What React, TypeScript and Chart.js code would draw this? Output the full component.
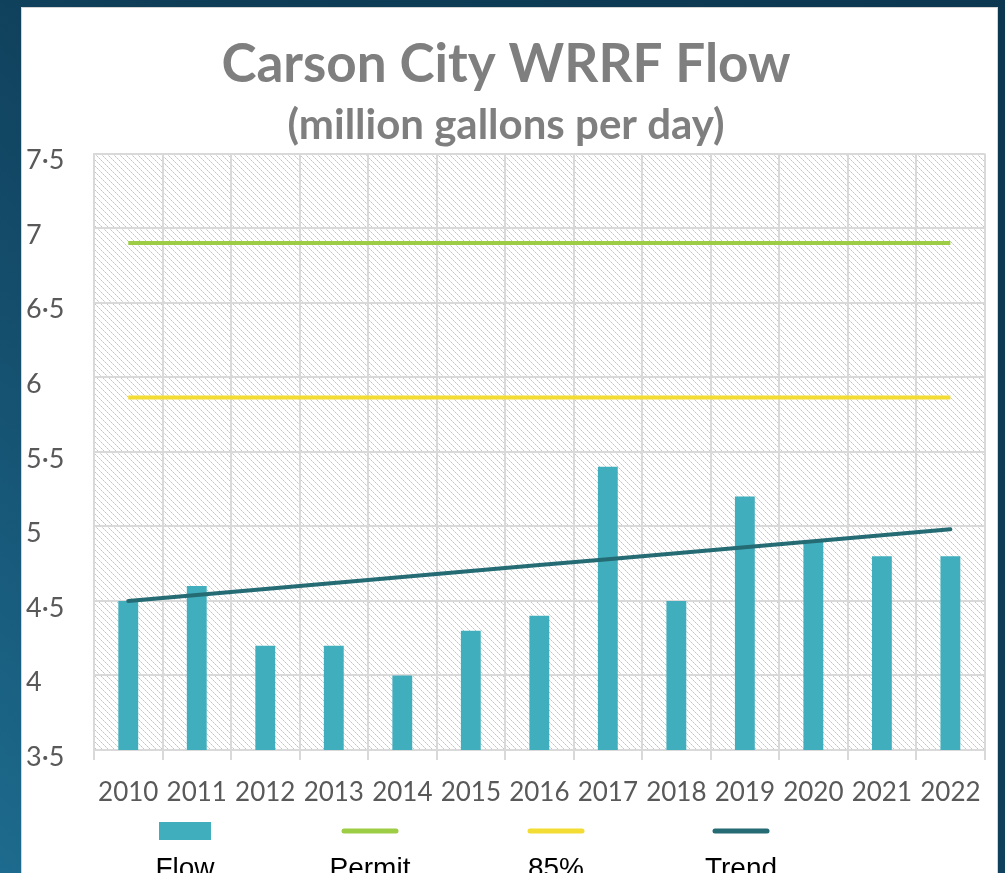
import React, { useEffect, useRef } from "react";
import { Chart, registerables } from "chart.js";

Chart.register(...registerables);

const years = ["2010", "2011", "2012", "2013", "2014", "2015", "2016", "2017", "2018", "2019", "2020", "2021", "2022"];
const flow = [4.5, 4.6, 4.2, 4.2, 4.0, 4.3, 4.4, 5.4, 4.5, 5.2, 4.9, 4.8, 4.8];
const permit = [6.9, 6.9, 6.9, 6.9, 6.9, 6.9, 6.9, 6.9, 6.9, 6.9, 6.9, 6.9, 6.9];
const pct85 = [5.865, 5.865, 5.865, 5.865, 5.865, 5.865, 5.865, 5.865, 5.865, 5.865, 5.865, 5.865, 5.865];
const trend = [4.5, 4.54, 4.58, 4.62, 4.66, 4.7, 4.74, 4.78, 4.82, 4.86, 4.9, 4.94, 4.98];
const seriesNames = ["Flow", "Permit", "85%", "Trend"];
const yMin = 3.5;
const yMax = 7.5;
const yStep = 0.5;
const titleText = "Carson City WRRF Flow";
const subtitleText = "(million gallons per day)";

const COLORS = {
  flow: "#41aebd",
  permit: "#9dcd45",
  pct85: "#f3dc33",
  trend: "#246b74",
  grid: "#d9d9d9",
  tick: "#595959",
  title: "#7f7f7f",
};

const hatchPlugin = {
  id: "hatchBg",
  beforeDraw(chart: any) {
    const { ctx, chartArea } = chart;
    const { left, top, right, bottom } = chartArea;
    const tile = document.createElement("canvas");
    tile.width = 6;
    tile.height = 6;
    const t = tile.getContext("2d")!;
    t.fillStyle = "#ffffff";
    t.fillRect(0, 0, 6, 6);
    for (let i = 0; i < 6; i++) {
      t.fillStyle = i % 2 === 0 ? "#c4c4c4" : "#dcdcdc";
      t.fillRect(i, i, 1, 1);
    }
    const pattern = ctx.createPattern(tile, "repeat");
    ctx.save();
    ctx.fillStyle = pattern;
    ctx.fillRect(left, top, right - left, bottom - top);
    ctx.restore();
  },
};

const legendPlugin = {
  id: "bottomLegend",
  afterDraw(chart: any) {
    const { ctx } = chart;
    const centers = [164, 349, 535, 720];
    const markY = 823;
    const textY = 869;
    ctx.save();
    chart.data.datasets.forEach((ds: any, i: number) => {
      const cx = centers[i];
      if (ds.type === "bar") {
        ctx.fillStyle = ds.backgroundColor;
        ctx.fillRect(cx - 26, markY - 9, 52, 18);
      } else {
        ctx.strokeStyle = ds.borderColor;
        ctx.lineWidth = 5;
        ctx.lineCap = "round";
        ctx.beginPath();
        ctx.moveTo(cx - 26, markY);
        ctx.lineTo(cx + 26, markY);
        ctx.stroke();
      }
      ctx.fillStyle = "#000000";
      ctx.font = "28px 'Liberation Sans', Arial, sans-serif";
      ctx.textAlign = "center";
      ctx.textBaseline = "alphabetic";
      ctx.fillText(ds.label, cx, textY);
    });
    ctx.restore();
  },
};

export default function App() {
  const canvasRef = useRef<HTMLCanvasElement | null>(null);

  useEffect(() => {
    const canvas = canvasRef.current;
    if (!canvas) return;
    const chart = new Chart(canvas, {
      type: "bar",
      data: {
        labels: years,
        datasets: [
          {
            type: "bar",
            label: seriesNames[0],
            data: flow,
            backgroundColor: COLORS.flow,
            borderWidth: 0,
            barPercentage: 0.29,
            categoryPercentage: 1,
            order: 2,
          },
          {
            type: "line",
            label: seriesNames[1],
            data: permit,
            borderColor: COLORS.permit,
            borderWidth: 4,
            pointRadius: 0,
            fill: false,
            order: 1,
          },
          {
            type: "line",
            label: seriesNames[2],
            data: pct85,
            borderColor: COLORS.pct85,
            borderWidth: 4,
            pointRadius: 0,
            fill: false,
            order: 1,
          },
          {
            type: "line",
            label: seriesNames[3],
            data: trend,
            borderColor: COLORS.trend,
            borderWidth: 4,
            borderCapStyle: "round",
            pointRadius: 0,
            fill: false,
            order: 0,
          },
        ] as any,
      },
      options: {
        responsive: false,
        animation: false,
        devicePixelRatio: 1,
        layout: { padding: { left: 5, right: 12, top: 0, bottom: 0 } },
        plugins: {
          legend: { display: false },
          tooltip: { enabled: false },
          title: {
            display: true,
            text: titleText,
            color: COLORS.title,
            font: { family: "Lato", size: 53, weight: "bold", lineHeight: 1.2 },
            padding: { top: 25, bottom: 0 },
          },
          subtitle: {
            display: true,
            text: subtitleText,
            color: COLORS.title,
            font: { family: "Lato", size: 42, weight: "bold", lineHeight: 1.2 },
            padding: { top: 4, bottom: 2.6 },
          },
        },
        scales: {
          x: {
            offset: true,
            grid: {
              offset: true,
              color: COLORS.grid,
              lineWidth: 2,
              drawTicks: true,
              tickLength: 10,
              tickColor: COLORS.grid,
            },
            border: { display: true, color: COLORS.grid, width: 2 },
            ticks: {
              color: COLORS.tick,
              font: { family: "Lato", size: 26 },
              autoSkip: false,
              maxRotation: 0,
              minRotation: 0,
              padding: 17,
            },
            afterFit(scale: any) {
              scale.height = 138;
            },
          },
          y: {
            min: yMin,
            max: yMax,
            grid: {
              color: COLORS.grid,
              lineWidth: 2,
              drawTicks: false,
            },
            border: { display: true, color: COLORS.grid, width: 2 },
            ticks: {
              stepSize: yStep,
              color: COLORS.tick,
              font: { family: "Lato", size: 27 },
              crossAlign: "far",
              labelOffset: 7,
              padding: 0,
              callback: (v: any) => {
                const n = Number(v);
                return Number.isInteger(n) ? String(n) : String(n).replace(".", "·");
              },
            },
            afterFit(scale: any) {
              scale.width = 68;
            },
          },
        },
      } as any,
      plugins: [hatchPlugin, legendPlugin],
    });
    return () => chart.destroy();
  }, []);

  return (
    <div
      style={{
        position: "fixed",
        inset: 0,
        overflow: "hidden",
        background: "linear-gradient(to top right, #1d6b8e 0%, #15506f 30%, #0f3e58 55%, #0c3750 100%)",
      }}
    >
      <div
        style={{
          position: "absolute",
          left: 21,
          top: 7,
          width: 977,
          height: 900,
          background: "#ffffff",
          border: "1px solid #d4d4d4",
          boxSizing: "border-box",
        }}
      />
      <canvas
        ref={canvasRef}
        width={977}
        height={880}
        style={{ position: "absolute", left: 21, top: 8, width: 977, height: 880 }}
      />
    </div>
  );
}
